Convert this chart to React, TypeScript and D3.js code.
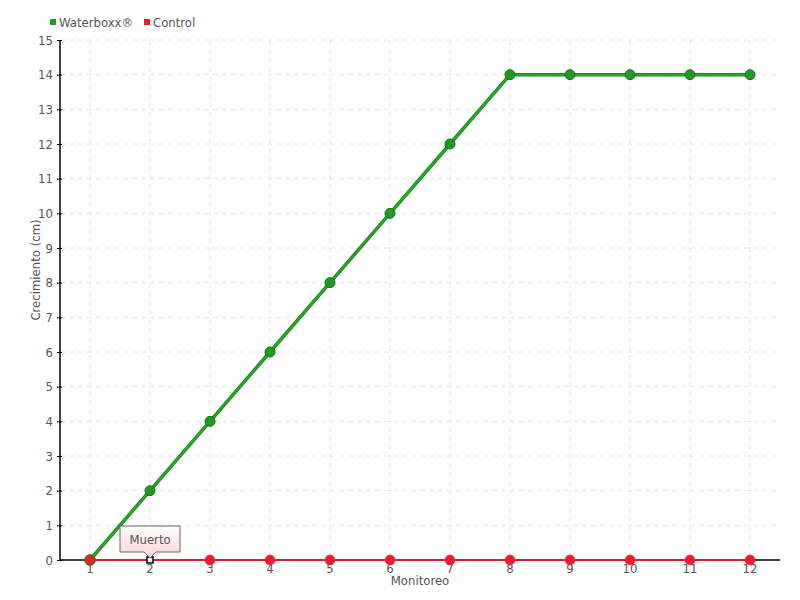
import React, { useRef, useEffect } from 'react';
import * as d3 from 'd3';

const monitoreos = ['1', '2', '3', '4', '5', '6', '7', '8', '9', '10', '11', '12'];
const waterboxx = [0, 2, 4, 6, 8, 10, 12, 14, 14, 14, 14, 14];
const control = [0, 0, 0, 0, 0, 0, 0, 0, 0, 0, 0, 0];
const yTicks = d3.range(0, 16);
const deadIndex = 1; // "Muerto" note on monitoreo 2

const FONT = "'DejaVu Sans Condensed', 'DejaVu Sans', sans-serif";

const App: React.FC = () => {
  const ref = useRef<SVGSVGElement>(null);

  useEffect(() => {
    if (!ref.current) return;
    const svg = d3.select(ref.current);
    svg.selectAll('*').remove();

    const margin = { top: 40, right: 20, bottom: 40, left: 60 };
    const width = 800, height = 600;
    const w = width - margin.left - margin.right;
    const h = height - margin.top - margin.bottom;

    const x = d3.scaleBand().domain(monitoreos).range([0, w]);
    const cx = (d: string) => (x(d) as number) + x.bandwidth() / 2;
    const y = d3.scaleLinear().domain([0, 15]).range([h, 0]);

    const defs = svg.append('defs');
    const grad = defs.append('linearGradient').attr('id', 'tipGrad')
      .attr('x1', 0).attr('y1', 0).attr('x2', 0).attr('y2', 1);
    grad.append('stop').attr('offset', '0%').attr('stop-color', '#ffffff');
    grad.append('stop').attr('offset', '100%').attr('stop-color', '#fbd3d3');

    const g = svg.append('g').attr('transform', `translate(${margin.left},${margin.top})`);

    // grid
    g.append('g').selectAll('line').data(yTicks.slice(1)).join('line')
      .attr('x1', 0).attr('x2', w)
      .attr('y1', d => y(d)).attr('y2', d => y(d))
      .attr('stroke', '#e6e6e6').attr('stroke-dasharray', '5,4');
    g.append('g').selectAll('line').data(monitoreos).join('line')
      .attr('x1', d => cx(d)).attr('x2', d => cx(d))
      .attr('y1', 0).attr('y2', h)
      .attr('stroke', '#e6e6e6').attr('stroke-dasharray', '5,4');

    // y axis
    const yAxis = g.append('g').call(
      d3.axisLeft(y).tickValues(yTicks).tickSize(4).tickFormat(d3.format('d'))
    );
    yAxis.select('.domain').remove();
    yAxis.selectAll('.tick line').attr('x1', 2).attr('x2', -3).attr('stroke', '#000');
    yAxis.selectAll('.tick text').attr('x', -7)
      .attr('font-family', FONT).attr('font-size', 13).attr('fill', '#555');
    g.append('line').attr('x1', 0).attr('x2', 0).attr('y1', 0).attr('y2', h)
      .attr('stroke', '#000').attr('stroke-width', 1.5);

    // x axis
    const xAxis = g.append('g').attr('transform', `translate(0,${h})`)
      .call(d3.axisBottom(x).tickSize(0).tickPadding(4));
    xAxis.select('.domain').remove();
    xAxis.selectAll('.tick text')
      .attr('font-family', FONT).attr('font-size', 13).attr('fill', '#555');
    g.append('line').attr('x1', 0).attr('x2', w).attr('y1', h).attr('y2', h)
      .attr('stroke', '#000').attr('stroke-width', 1.5);

    // axis titles
    g.append('text').attr('x', w / 2).attr('y', h + 25)
      .attr('text-anchor', 'middle').attr('font-family', FONT)
      .attr('font-size', 13).attr('fill', '#555').text('Monitoreo');
    g.append('text').attr('transform', `translate(-20,${h / 2 - 30}) rotate(-90)`)
      .attr('text-anchor', 'middle').attr('font-family', FONT)
      .attr('font-size', 13).attr('fill', '#555').text('Crecimiento (cm)');

    const line = d3.line<number>()
      .x((_, i) => cx(monitoreos[i]))
      .y(d => y(d));

    // Waterboxx series
    g.append('path').datum(waterboxx).attr('d', line)
      .attr('fill', 'none').attr('stroke', '#2a7d2a').attr('stroke-width', 3.5);
    g.append('path').datum(waterboxx).attr('d', line)
      .attr('fill', 'none').attr('stroke', '#22aa22').attr('stroke-width', 2);
    g.append('g').selectAll('circle').data(waterboxx).join('circle')
      .attr('cx', (_, i) => cx(monitoreos[i])).attr('cy', d => y(d))
      .attr('r', 5).attr('fill', '#229922').attr('stroke', '#1a6f1a').attr('stroke-width', 1);

    // Control series
    g.append('path').datum(control).attr('d', line)
      .attr('fill', 'none').attr('stroke', '#ff1a33').attr('stroke-width', 1.5);
    g.append('g').selectAll('circle')
      .data(control.map((v, i) => ({ v, i })).filter(d => d.i !== deadIndex))
      .join('circle')
      .attr('cx', d => cx(monitoreos[d.i])).attr('cy', d => y(d.v))
      .attr('r', 5).attr('fill', '#ee1c2e')
      .attr('stroke', d => (d.i === 0 ? '#3f6f2a' : '#e8202f'))
      .attr('stroke-width', d => (d.i === 0 ? 1.5 : 0.5));

    // "Muerto" marker + note
    const mx = cx(monitoreos[deadIndex]);
    const my = y(control[deadIndex]);
    g.append('rect').attr('x', mx - 3).attr('y', my - 3).attr('width', 6).attr('height', 6)
      .attr('fill', '#fff').attr('stroke', '#000').attr('stroke-width', 1.5);
    const bw = 60, bh = 26, top = my - 34;
    const tip = `M${mx - bw / 2},${top} h${bw} v${bh} h${-(bw / 2 - 6)} l-6,6 l-6,-6 h${-(bw / 2 - 6)} Z`;
    g.append('path').attr('d', tip).attr('fill', 'url(#tipGrad)')
      .attr('stroke', '#666').attr('stroke-width', 1);
    g.append('text').attr('x', mx).attr('y', top + 18).attr('text-anchor', 'middle')
      .attr('font-family', FONT).attr('font-size', 13).attr('fill', '#555').text('Muerto');

    // legend
    const legend = svg.append('g').attr('transform', 'translate(50,22)');
    const items = [
      { label: 'Waterboxx®', color: '#22a022', x: 0 },
      { label: 'Control', color: '#ee1c2e', x: 94 },
    ];
    items.forEach(it => {
      legend.append('rect').attr('x', it.x).attr('y', -3).attr('width', 6).attr('height', 6).attr('fill', it.color);
      legend.append('text').attr('x', it.x + 9).attr('y', 4.5)
        .attr('font-family', FONT).attr('font-size', 13).attr('fill', '#555').text(it.label);
    });
  }, []);

  return <svg ref={ref} width={800} height={600} style={{ position: 'absolute', left: 0, top: 0 }} />;
};

export default App;
